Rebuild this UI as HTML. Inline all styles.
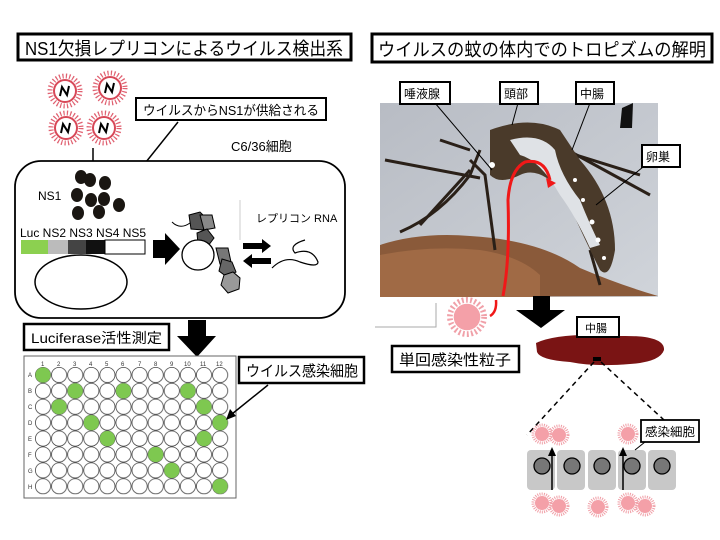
<!DOCTYPE html>
<html><head><meta charset="utf-8"><style>
html,body{margin:0;padding:0;background:#fff;}
svg{display:block;font-family:"Liberation Sans","Noto Sans CJK JP",sans-serif;}
</style></head><body>
<svg width="720" height="540" viewBox="0 0 720 540" xmlns="http://www.w3.org/2000/svg">
<defs>
<g id="vir">
<circle r="15" fill="none" stroke="#e06070" stroke-width="5" stroke-dasharray="1.2 2.2"/>
<circle r="11" fill="#fff" stroke="#d84858" stroke-width="2"/>
<path d="M-5 5 L-3 -4 L2 4 L4 -5" fill="none" stroke="#000" stroke-width="2"/>
</g>
<g id="pv">
<circle r="9" fill="none" stroke="#f0a0a8" stroke-width="3" stroke-dasharray="1 1.2"/>
<circle r="7" fill="#f4a0a8"/>
</g>
<pattern id="wells" x="35" y="367" width="16.1" height="15.9" patternUnits="userSpaceOnUse">
<circle cx="8" cy="8" r="7.6" fill="#fff" stroke="#444" stroke-width="0.8"/>
</pattern>
<linearGradient id="bg" x1="0" y1="0" x2="1" y2="1"><stop offset="0" stop-color="#b8bcc4"/><stop offset="1" stop-color="#d0d4da"/></linearGradient>
</defs>

<!-- left title -->
<rect x="18" y="34" width="333" height="26" fill="#fff" stroke="#000" stroke-width="3"/>
<text x="25" y="55" font-size="18" textLength="318" lengthAdjust="spacingAndGlyphs">NS1欠損レプリコンによるウイルス検出系</text>
<!-- right title -->
<rect x="372" y="34" width="340" height="28" fill="#fff" stroke="#000" stroke-width="3"/>
<text x="378" y="56" font-size="18" textLength="328" lengthAdjust="spacingAndGlyphs">ウイルスの蚊の体内でのトロピズムの解明</text>

<!-- viruses -->
<use href="#vir" x="65" y="91"/><use href="#vir" x="110" y="88"/>
<use href="#vir" x="66" y="128"/><use href="#vir" x="104" y="128"/>
<line x1="93" y1="148" x2="93" y2="168" stroke="#000" stroke-width="1.5"/>
<path d="M88 164 L93 172 L98 164Z"/>
<rect x="136" y="98" width="190" height="22" fill="#fff" stroke="#000" stroke-width="2"/>
<text x="143" y="115" font-size="13" textLength="176" lengthAdjust="spacingAndGlyphs">ウイルスからNS1が供給される</text>
<line x1="178" y1="122" x2="130" y2="182" stroke="#000" stroke-width="1.5"/>
<path d="M125 189 L127 178 L134 184Z"/>
<text x="231" y="151" font-size="13">C6/36細胞</text>

<!-- cell -->
<rect x="15" y="161" width="330" height="157" rx="26" fill="#fff" stroke="#000" stroke-width="1.8"/>
<g fill="#1a1612">
<ellipse cx="81" cy="177" rx="6" ry="7"/><ellipse cx="90" cy="180" rx="6" ry="7"/><ellipse cx="105" cy="183" rx="6" ry="7"/>
<ellipse cx="77" cy="195" rx="6" ry="7"/><ellipse cx="91" cy="200" rx="6" ry="7"/><ellipse cx="104" cy="199" rx="6" ry="7"/>
<ellipse cx="119" cy="205" rx="6" ry="7"/><ellipse cx="78" cy="213" rx="6" ry="7"/><ellipse cx="99" cy="212" rx="6" ry="7"/>
</g>
<text x="38" y="200" font-size="12">NS1</text>
<text x="20" y="237" font-size="12">Luc  NS2 NS3 NS4 NS5</text>
<rect x="21" y="240" width="27" height="14" fill="#8cd050"/>
<rect x="48" y="240" width="20" height="14" fill="#bbb"/>
<rect x="68" y="240" width="18" height="14" fill="#444"/>
<rect x="86" y="240" width="19" height="14" fill="#111"/>
<rect x="105" y="240" width="40" height="14" fill="#fff" stroke="#000"/>
<ellipse cx="81" cy="282" rx="46" ry="27" fill="none" stroke="#000" stroke-width="1.5"/>
<path d="M153 240 L165 240 L165 233 L180 249 L165 265 L165 258 L153 258Z"/>
<path d="M172 222 Q180 230 190 223" fill="none" stroke="#000"/>
<polygon points="189,215 200,212 208,220 203,230 191,229" fill="#555" stroke="#000"/>
<polygon points="200,215 212,215 215,228 204,230" fill="#888" stroke="#000"/>
<polygon points="197,233 207,229 214,238 208,246 198,244" fill="#555" stroke="#000"/>
<polygon points="216,248 228,248 231,262 220,264" fill="#777" stroke="#000"/>
<polygon points="222,259 232,262 236,272 227,277 219,271" fill="#666" stroke="#000"/>
<polygon points="224,275 233,272 240,278 239,289 228,293 221,285" fill="#999" stroke="#000"/>
<ellipse cx="198" cy="255" rx="16" ry="15" fill="#fff" stroke="#000" stroke-width="1.3"/>
<line x1="240" y1="200" x2="240" y2="240" stroke="#ccc"/>
<text x="256" y="222" font-size="11">レプリコン RNA</text>
<path d="M243 243 L262 243 L262 239 L271 246 L262 253 L262 249 L243 249Z"/>
<path d="M271 258 L252 258 L252 254 L243 261 L252 268 L252 264 L271 264Z"/>
<path d="M272 268 Q285 255 300 262 Q318 268 318 262 Q312 247 295 253 Q288 245 305 240" fill="none" stroke="#000" stroke-width="1.2"/>

<!-- luciferase -->
<rect x="24" y="324" width="145" height="26" fill="#fff" stroke="#000" stroke-width="2.5"/>
<text x="31" y="343" font-size="14" textLength="131" lengthAdjust="spacingAndGlyphs">Luciferase活性測定</text>
<path d="M188 320 L206 320 L206 336 L216 336 L197 357 L177 336 L188 336Z"/>
<!-- plate -->
<rect x="24" y="356" width="212" height="142" fill="#fff" stroke="#666" stroke-width="1"/>
<g font-size="6" fill="#333">
<text x="41" y="366">1</text><text x="57" y="366">2</text><text x="73" y="366">3</text><text x="89" y="366">4</text><text x="105" y="366">5</text><text x="121" y="366">6</text><text x="138" y="366">7</text><text x="154" y="366">8</text><text x="170" y="366">9</text><text x="184" y="366">10</text><text x="200" y="366">11</text><text x="216" y="366">12</text>
<text x="28" y="377">A</text><text x="28" y="393">B</text><text x="28" y="409">C</text><text x="28" y="425">D</text><text x="28" y="441">E</text><text x="28" y="457">F</text><text x="28" y="473">G</text><text x="28" y="489">H</text>
</g>
<rect x="35" y="367" width="193.2" height="127.2" fill="url(#wells)"/>
<g fill="#7ec850">
<circle cx="43" cy="375" r="7.6"/><circle cx="75.2" cy="390.9" r="7.6"/><circle cx="123.5" cy="390.9" r="7.6"/><circle cx="187.9" cy="390.9" r="7.6"/>
<circle cx="59.1" cy="406.8" r="7.6"/><circle cx="204" cy="406.8" r="7.6"/><circle cx="91.3" cy="422.7" r="7.6"/><circle cx="220.1" cy="422.7" r="7.6"/>
<circle cx="107.4" cy="438.6" r="7.6"/><circle cx="204" cy="438.6" r="7.6"/><circle cx="155.7" cy="454.5" r="7.6"/><circle cx="171.8" cy="470.4" r="7.6"/><circle cx="220.1" cy="486.3" r="7.6"/>
</g>
<rect x="239" y="357" width="125" height="26" fill="#fff" stroke="#000" stroke-width="2.5"/>
<text x="246" y="376" font-size="15" textLength="112" lengthAdjust="spacingAndGlyphs">ウイルス感染細胞</text>
<line x1="268" y1="385" x2="232" y2="414" stroke="#000" stroke-width="1.5"/>
<path d="M226 420 L230 409 L236 416Z"/>

<!-- photo -->
<rect x="380" y="103" width="278" height="194" fill="url(#bg)"/>
<path d="M380 245 Q420 232 470 236 Q540 240 580 268 Q620 285 658 296 L380 297Z" fill="#8a5a3a"/>
<path d="M380 255 Q430 245 480 250 Q520 256 540 275 L540 297 L380 297Z" fill="#a06a45"/>
<g stroke="#2a2018" fill="none" stroke-width="3">
<path d="M400 232 Q440 215 470 175 L480 150"/><path d="M420 225 L470 170"/><path d="M385 160 L480 178"/><path d="M470 160 L485 175 L495 250"/><path d="M440 140 L470 150"/>
<path d="M540 135 L650 195"/><path d="M560 150 L640 175"/><path d="M590 250 L600 285"/>
</g>
<path d="M490 130 Q530 115 560 130 L580 160 Q615 200 615 250 Q610 280 600 270 Q580 230 565 195 Q540 165 520 175 Q500 185 490 175Z" fill="#4a3a2a"/>
<path d="M510 140 Q540 132 555 150 Q560 175 580 200 Q590 225 600 245 L590 248 Q575 215 560 195 Q540 160 520 155Z" fill="#dfe2e6"/>
<g fill="#fff"><circle cx="575" cy="180" r="2"/><circle cx="583" cy="200" r="2"/><circle cx="592" cy="222" r="2.5"/><circle cx="598" cy="240" r="2.5"/><circle cx="604" cy="258" r="2"/><circle cx="492" cy="165" r="3"/></g>
<path d="M622 108 L633 103 L632 128 L620 128Z" fill="#111"/>
<path d="M503 296 Q510 260 508 200 Q510 170 525 162 Q545 158 550 180" fill="none" stroke="#f01818" stroke-width="3"/>
<path d="M546 178 L556 183 L548 188Z" fill="#f01818"/>
<g stroke="#000" stroke-width="1"><line x1="435" y1="103" x2="492" y2="170"/><line x1="518" y1="103" x2="512" y2="125"/><line x1="590" y1="103" x2="572" y2="150"/><line x1="648" y1="163" x2="596" y2="205"/></g>
<g font-size="12">
<rect x="400" y="82" width="50" height="22" fill="#fff" stroke="#000" stroke-width="2"/><text x="404" y="98">唾液腺</text>
<rect x="500" y="82" width="38" height="22" fill="#fff" stroke="#000" stroke-width="2"/><text x="504" y="98">頭部</text>
<rect x="576" y="82" width="38" height="22" fill="#fff" stroke="#000" stroke-width="2"/><text x="580" y="98">中腸</text>
<rect x="642" y="145" width="38" height="22" fill="#fff" stroke="#000" stroke-width="2"/><text x="646" y="161">卵巣</text>
</g>
<path d="M375 327 L436 327 L436 303" fill="none" stroke="#aaa"/>
<g transform="translate(467,317) scale(1.9)"><use href="#pv"/></g>
<path d="M496 300 Q497 312 490 316" fill="none" stroke="#f01818" stroke-width="2.5"/>
<path d="M533 296 L550 296 L550 310 L565 310 L541 328 L516 310 L533 310Z"/>
<rect x="392" y="346" width="127" height="26" fill="#fff" stroke="#000" stroke-width="2.5"/>
<text x="399" y="365" font-size="15" textLength="112" lengthAdjust="spacingAndGlyphs">単回感染性粒子</text>
<path d="M536 343 Q560 332 620 336 Q665 335 664 350 Q660 362 630 364 Q595 367 570 362 Q540 360 537 352Z" fill="#7a1414"/>
<rect x="577" y="317" width="42" height="20" fill="#fff" stroke="#000" stroke-width="2"/>
<text x="585" y="332" font-size="11">中腸</text>
<rect x="593" y="357" width="8" height="4" fill="#000"/>
<g stroke="#000" stroke-width="1.5" stroke-dasharray="5 4"><line x1="594" y1="362" x2="527" y2="435"/><line x1="601" y1="362" x2="664" y2="420"/></g>
<g fill="#c8c8c8">
<rect x="527" y="450" width="28" height="40" rx="4"/><rect x="557" y="450" width="28" height="40" rx="4"/><rect x="588" y="450" width="28" height="40" rx="4"/><rect x="618" y="450" width="28" height="40" rx="4"/><rect x="648" y="450" width="28" height="40" rx="4"/>
</g>
<g fill="#777" stroke="#000" stroke-width="1.3">
<circle cx="542" cy="466" r="8"/><circle cx="572" cy="466" r="8"/><circle cx="602" cy="466" r="8"/><circle cx="632" cy="466" r="8"/><circle cx="662" cy="466" r="8"/>
</g>
<g stroke="#000" stroke-width="1.5"><line x1="552" y1="490" x2="552" y2="453"/><line x1="623" y1="490" x2="623" y2="453"/></g>
<path d="M548 456 L552 447 L556 456Z"/><path d="M619 456 L623 447 L627 456Z"/>
<use href="#pv" x="542" y="434"/><use href="#pv" x="559" y="435"/><use href="#pv" x="628" y="434"/>
<use href="#pv" x="542" y="503"/><use href="#pv" x="559" y="506"/><use href="#pv" x="598" y="507"/><use href="#pv" x="628" y="503"/><use href="#pv" x="645" y="506"/>
<rect x="641" y="420" width="58" height="22" fill="#fff" stroke="#000" stroke-width="1.8"/>
<text x="645" y="436" font-size="12" textLength="50" lengthAdjust="spacingAndGlyphs">感染細胞</text>
<line x1="645" y1="442" x2="635" y2="450" stroke="#000"/>
</svg>
</body></html>
